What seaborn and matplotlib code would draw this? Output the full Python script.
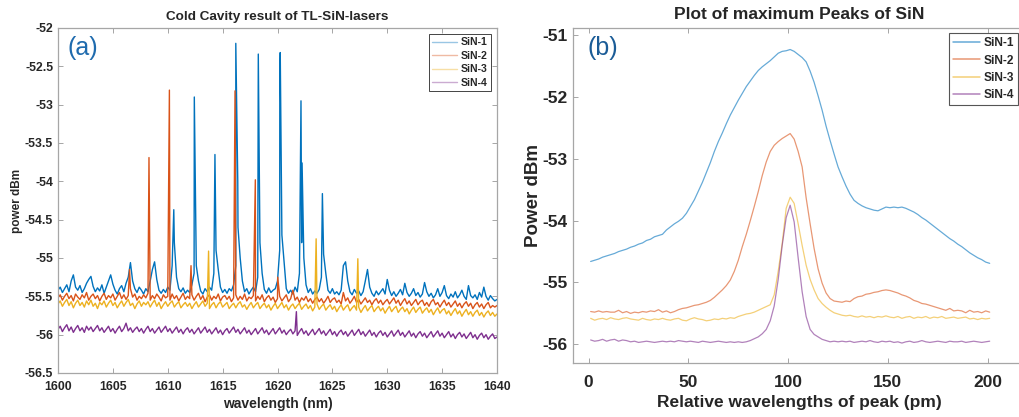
import numpy as np
import pandas as pd
import matplotlib
matplotlib.use("Agg")
import matplotlib.pyplot as plt
from matplotlib.lines import Line2D
from matplotlib.ticker import FuncFormatter
import seaborn as sns

series_names = ["SiN-1", "SiN-2", "SiN-3", "SiN-4"]
line_colors = ["#0072BD", "#D95319", "#EDB120", "#7E2F8E"]

# ---------------------------------------------------------------- (a) spectra
# noise floor sampled every 0.2 nm from 1600 to 1640 nm (dBm)
sin1_floor = [
    -55.42, -55.38, -55.45, -55.40, -55.35, -55.44, -55.30, -55.22, -55.38, -55.42,
    -55.36, -55.45, -55.40, -55.33, -55.28, -55.24, -55.37, -55.44, -55.39, -55.43,
    -55.35, -55.46, -55.38, -55.30, -55.22, -55.34, -55.42, -55.47, -55.40, -55.36,
    -55.44, -55.33, -55.25, -55.06, -55.30, -55.40, -55.45, -55.38, -55.42, -55.47,
    -55.40, -55.44, -55.30, -55.15, -55.05, -55.28, -55.42, -55.46, -55.41, -55.45,
    -55.38, -55.42, -55.10, -54.80, -55.25, -55.40, -55.44, -55.39, -55.46, -55.42,
    -55.45, -55.35, -55.20, -55.10, -55.30, -55.43, -55.47, -55.40, -55.44, -55.38,
    -55.42, -55.20, -54.90, -55.15, -55.38, -55.45, -55.41, -55.46, -55.40, -55.43,
    -55.35, -55.10, -54.60, -55.00, -55.30, -55.44, -55.40, -55.47, -55.42, -55.38,
    -55.44, -55.25, -54.80, -55.20, -55.41, -55.46, -55.39, -55.45, -55.42, -55.40,
    -55.30, -54.90, -54.70, -55.05, -55.40, -55.46, -55.42, -55.47, -55.38, -55.44,
    -55.20, -54.80, -55.00, -55.35, -55.45, -55.40, -55.47, -55.43, -55.46, -55.41,
    -55.25, -54.95, -55.20, -55.42, -55.46, -55.40, -55.47, -55.44, -55.48, -55.42,
    -55.10, -55.05, -55.30, -55.44, -55.48, -55.41, -55.46, -55.43, -55.49, -55.44,
    -55.30, -55.15, -55.38, -55.46, -55.50, -55.43, -55.48, -55.44, -55.40, -55.47,
    -55.28, -55.42, -55.49, -55.44, -55.50, -55.46, -55.41, -55.48, -55.33, -55.45,
    -55.50, -55.46, -55.40, -55.49, -55.45, -55.51, -55.47, -55.32, -55.44, -55.50,
    -55.46, -55.52, -55.48, -55.40, -55.50, -55.45, -55.36, -55.49, -55.53, -55.47,
    -55.51, -55.44, -55.52, -55.48, -55.42, -55.50, -55.54, -55.36, -55.49, -55.52,
    -55.48, -55.54, -55.45, -55.51, -55.38, -55.50, -55.55, -55.49, -55.53, -55.56,
    -55.54,
]
sin2_floor = [
    -55.52, -55.48, -55.55, -55.50, -55.46, -55.53, -55.49, -55.56, -55.47, -55.51,
    -55.54, -55.48, -55.52, -55.45, -55.55, -55.50, -55.47, -55.53, -55.49, -55.56,
    -55.50, -55.46, -55.54, -55.49, -55.52, -55.47, -55.55, -55.50, -55.45, -55.53,
    -55.48, -55.54, -55.49, -55.40, -55.51, -55.47, -55.55, -55.50, -55.53, -55.48,
    -55.52, -55.46, -55.55, -55.49, -55.53, -55.47, -55.51, -55.56, -55.48, -55.52,
    -55.50, -55.55, -55.47, -55.53, -55.49, -55.56, -55.51, -55.46, -55.54, -55.50,
    -55.53, -55.48, -55.55, -55.50, -55.46, -55.54, -55.49, -55.57, -55.51, -55.48,
    -55.55, -55.50, -55.53, -55.47, -55.56, -55.51, -55.49, -55.54, -55.50, -55.57,
    -55.52, -55.48, -55.55, -55.50, -55.54, -55.47, -55.56, -55.51, -55.53, -55.49,
    -55.56, -55.50, -55.54, -55.48, -55.57, -55.52, -55.49, -55.55, -55.51, -55.58,
    -55.53, -55.50, -55.56, -55.52, -55.48, -55.57, -55.53, -55.42, -55.55, -55.51,
    -55.58, -55.52, -55.55, -55.50, -55.57, -55.53, -55.59, -55.54, -55.51, -55.57,
    -55.53, -55.59, -55.55, -55.50, -55.58, -55.54, -55.52, -55.58, -55.55, -55.60,
    -55.45, -55.56, -55.52, -55.59, -55.55, -55.50, -55.58, -55.54, -55.60, -55.56,
    -55.52, -55.58, -55.55, -55.61, -55.56, -55.53, -55.59, -55.55, -55.61, -55.57,
    -55.54, -55.60, -55.56, -55.52, -55.59, -55.55, -55.62, -55.57, -55.53, -55.60,
    -55.56, -55.62, -55.58, -55.54, -55.61, -55.57, -55.55, -55.62, -55.58, -55.63,
    -55.57, -55.54, -55.61, -55.58, -55.64, -55.59, -55.55, -55.62, -55.58, -55.64,
    -55.60, -55.56, -55.63, -55.59, -55.65, -55.60, -55.57, -55.63, -55.59, -55.66,
    -55.61, -55.58, -55.64, -55.60, -55.66, -55.61, -55.58, -55.65, -55.62, -55.64,
    -55.62,
]
sin3_floor = [
    -55.60, -55.56, -55.63, -55.58, -55.54, -55.62, -55.57, -55.65, -55.59, -55.55,
    -55.62, -55.58, -55.64, -55.56, -55.61, -55.55, -55.63, -55.59, -55.66, -55.58,
    -55.61, -55.56, -55.64, -55.59, -55.55, -55.62, -55.58, -55.65, -55.60, -55.56,
    -55.63, -55.58, -55.54, -55.62, -55.59, -55.66, -55.60, -55.56, -55.63, -55.58,
    -55.61, -55.57, -55.64, -55.59, -55.55, -55.63, -55.58, -55.66, -55.61, -55.57,
    -55.63, -55.59, -55.56, -55.64, -55.60, -55.57, -55.65, -55.61, -55.58, -55.63,
    -55.59, -55.66, -55.61, -55.57, -55.64, -55.60, -55.56, -55.63, -55.59, -55.66,
    -55.61, -55.58, -55.65, -55.60, -55.57, -55.64, -55.61, -55.58, -55.66, -55.62,
    -55.59, -55.65, -55.60, -55.57, -55.64, -55.61, -55.67, -55.62, -55.58, -55.65,
    -55.61, -55.58, -55.66, -55.62, -55.59, -55.65, -55.61, -55.68, -55.63, -55.59,
    -55.66, -55.62, -55.58, -55.65, -55.61, -55.68, -55.63, -55.60, -55.66, -55.62,
    -55.59, -55.67, -55.63, -55.60, -55.66, -55.62, -55.69, -55.64, -55.60, -55.67,
    -55.63, -55.60, -55.68, -55.64, -55.61, -55.67, -55.63, -55.70, -55.65, -55.61,
    -55.68, -55.64, -55.61, -55.69, -55.65, -55.62, -55.68, -55.64, -55.71, -55.66,
    -55.62, -55.69, -55.65, -55.62, -55.70, -55.66, -55.63, -55.69, -55.65, -55.72,
    -55.67, -55.63, -55.70, -55.66, -55.63, -55.71, -55.67, -55.64, -55.70, -55.66,
    -55.73, -55.68, -55.64, -55.71, -55.67, -55.64, -55.72, -55.68, -55.65, -55.71,
    -55.67, -55.74, -55.69, -55.65, -55.72, -55.68, -55.66, -55.73, -55.69, -55.75,
    -55.70, -55.66, -55.73, -55.69, -55.76, -55.71, -55.67, -55.74, -55.70, -55.76,
    -55.71, -55.68, -55.75, -55.71, -55.77, -55.72, -55.69, -55.75, -55.71, -55.76,
    -55.73,
]
sin4_floor = [
    -55.93, -55.89, -55.96, -55.91, -55.87, -55.95, -55.90, -55.97, -55.92, -55.88,
    -55.95, -55.91, -55.97, -55.89, -55.94, -55.90, -55.96, -55.92, -55.88, -55.95,
    -55.91, -55.97, -55.93, -55.89, -55.96, -55.92, -55.98, -55.93, -55.89, -55.96,
    -55.92, -55.85, -55.95, -55.91, -55.97, -55.93, -55.90, -55.96, -55.92, -55.98,
    -55.93, -55.89, -55.96, -55.92, -55.98, -55.94, -55.90, -55.97, -55.93, -55.89,
    -55.96, -55.92, -55.98, -55.94, -55.90, -55.97, -55.93, -55.99, -55.94, -55.91,
    -55.97, -55.93, -55.99, -55.95, -55.91, -55.98, -55.94, -55.90, -55.97, -55.93,
    -55.99, -55.95, -55.91, -55.98, -55.94, -56.00, -55.95, -55.92, -55.98, -55.94,
    -55.90, -55.97, -55.93, -55.99, -55.95, -55.91, -55.98, -55.94, -56.00, -55.96,
    -55.92, -55.99, -55.95, -55.91, -55.98, -55.94, -56.00, -55.96, -55.92, -55.99,
    -55.95, -55.91, -55.98, -55.94, -56.00, -55.96, -55.93, -55.99, -55.95, -56.01,
    -55.96, -55.92, -55.99, -55.95, -56.01, -55.97, -55.93, -56.00, -55.96, -55.92,
    -55.99, -55.95, -56.01, -55.97, -55.93, -56.00, -55.96, -56.02, -55.97, -55.94,
    -56.00, -55.96, -56.02, -55.98, -55.94, -56.01, -55.97, -55.93, -56.00, -55.96,
    -56.02, -55.98, -55.94, -56.01, -55.97, -56.03, -55.98, -55.95, -56.01, -55.97,
    -56.03, -55.99, -55.95, -56.02, -55.98, -55.94, -56.01, -55.97, -56.03, -55.99,
    -55.95, -56.02, -55.98, -56.04, -55.99, -55.96, -56.02, -55.98, -56.04, -56.00,
    -55.96, -56.03, -55.99, -55.95, -56.02, -55.98, -56.04, -56.00, -55.96, -56.03,
    -55.99, -56.05, -56.00, -55.97, -56.03, -55.99, -56.05, -56.01, -55.97, -56.04,
    -56.00, -56.06, -56.01, -55.98, -56.04, -56.00, -56.06, -56.02, -55.99, -56.05,
    -56.03,
]

# cavity resonance peaks: wavelength (nm) and power (dBm)
sin1_peak_nm = [1610.55, 1612.42, 1614.30, 1616.20, 1616.38, 1618.25, 1620.21, 1620.25, 1622.14, 1622.24, 1624.09]
sin1_peak_dbm = [-54.37, -52.90, -53.65, -52.20, -54.00, -52.34, -52.60, -52.32, -52.95, -53.76, -54.16]
sin2_peak_nm = [1606.52, 1608.29, 1610.15, 1612.12, 1616.13, 1617.98, 1620.02]
sin2_peak_dbm = [-55.15, -53.69, -52.81, -55.10, -52.82, -53.98, -55.25]
sin3_peak_nm = [1613.72, 1623.52, 1627.32]
sin3_peak_dbm = [-54.91, -54.75, -55.01]
sin4_peak_nm = [1621.72]
sin4_peak_dbm = [-55.70]

# ---------------------------------------------------------------- (b) peak profiles
rel_pm = list(range(1, 202, 2))
sin1_profile = [
    -54.66, -54.64, -54.62, -54.59, -54.57, -54.55, -54.53, -54.50, -54.48, -54.46,
    -54.43, -54.41, -54.38, -54.36, -54.32, -54.30, -54.26, -54.24, -54.22, -54.15,
    -54.10, -54.05, -54.01, -53.96, -53.88, -53.77, -53.66, -53.52, -53.38, -53.22,
    -53.06, -52.88, -52.72, -52.58, -52.43, -52.29, -52.17, -52.05, -51.94, -51.83,
    -51.74, -51.65, -51.57, -51.51, -51.46, -51.41, -51.35, -51.29, -51.26, -51.25,
    -51.23, -51.26, -51.31, -51.36, -51.43, -51.58, -51.76, -51.98, -52.21, -52.47,
    -52.70, -52.92, -53.13, -53.29, -53.44, -53.57, -53.67, -53.72, -53.76, -53.79,
    -53.81, -53.83, -53.84, -53.81, -53.78, -53.79, -53.78, -53.79, -53.78, -53.80,
    -53.83, -53.86, -53.90, -53.95, -53.99, -54.04, -54.09, -54.14, -54.19, -54.24,
    -54.29, -54.33, -54.38, -54.42, -54.47, -54.52, -54.56, -54.60, -54.63, -54.67,
    -54.69,
]
sin2_profile = [
    -55.47, -55.48, -55.46, -55.48, -55.47, -55.48, -55.48, -55.45, -55.49, -55.47,
    -55.50, -55.48, -55.49, -55.47, -55.48, -55.46, -55.47, -55.44, -55.48, -55.46,
    -55.49, -55.47, -55.44, -55.42, -55.41, -55.39, -55.37, -55.36, -55.34, -55.32,
    -55.29, -55.24, -55.18, -55.12, -55.05, -54.96, -54.82, -54.64, -54.42, -54.22,
    -54.00, -53.77, -53.53, -53.27, -53.05, -52.88, -52.78, -52.72, -52.67, -52.63,
    -52.59, -52.68, -52.88, -53.13, -53.63, -54.05, -54.45, -54.78, -55.01, -55.17,
    -55.26, -55.30, -55.31, -55.32, -55.30, -55.31, -55.26, -55.23, -55.22, -55.19,
    -55.18, -55.16, -55.15, -55.13, -55.12, -55.13, -55.15, -55.17, -55.20, -55.22,
    -55.25, -55.29, -55.31, -55.34, -55.35, -55.37, -55.39, -55.41, -55.43, -55.45,
    -55.42, -55.46, -55.45, -55.46, -55.49, -55.45, -55.48, -55.47, -55.49, -55.46,
    -55.48,
]
sin3_profile = [
    -55.58, -55.61, -55.59, -55.58, -55.60, -55.57, -55.59, -55.60, -55.58, -55.57,
    -55.59, -55.60, -55.61, -55.58, -55.60, -55.61, -55.59, -55.60, -55.58, -55.60,
    -55.61, -55.59, -55.58, -55.61, -55.62, -55.59, -55.57, -55.59, -55.60, -55.62,
    -55.61, -55.59, -55.60, -55.58, -55.59, -55.57, -55.58, -55.55, -55.53, -55.51,
    -55.50, -55.48, -55.45, -55.42, -55.39, -55.36, -55.20, -54.82, -54.37, -53.80,
    -53.62, -53.72, -54.05, -54.40, -54.72, -54.95, -55.12, -55.26, -55.34, -55.40,
    -55.45, -55.49, -55.51, -55.53, -55.54, -55.53, -55.55, -55.56, -55.54, -55.56,
    -55.55, -55.57, -55.55, -55.56, -55.54, -55.56, -55.57, -55.55, -55.58, -55.56,
    -55.55, -55.58, -55.56, -55.57, -55.55, -55.58, -55.56, -55.57, -55.55, -55.58,
    -55.57, -55.56, -55.58, -55.57, -55.56, -55.59, -55.58, -55.60, -55.58, -55.59,
    -55.58,
]
sin4_profile = [
    -55.93, -55.95, -55.94, -55.92, -55.95, -55.93, -55.92, -55.95, -55.93, -55.94,
    -55.96, -55.95, -55.97, -55.96, -55.95, -55.96, -55.97, -55.96, -55.95, -55.96,
    -55.95, -55.96, -55.94, -55.95, -55.96, -55.95, -55.96, -55.97, -55.95, -55.96,
    -55.97, -55.96, -55.95, -55.96, -55.97, -55.96, -55.97, -55.96, -55.97, -55.96,
    -55.94, -55.91, -55.88, -55.83, -55.76, -55.62, -55.38, -54.95, -54.40, -53.95,
    -53.75, -54.02, -54.60, -55.15, -55.55, -55.76, -55.84, -55.88, -55.92, -55.94,
    -55.96, -55.95, -55.96, -55.95, -55.96, -55.95, -55.97, -55.96, -55.95, -55.96,
    -55.94, -55.96, -55.97, -55.95, -55.96, -55.95, -55.97, -55.96, -55.98, -55.96,
    -55.95, -55.97, -55.96, -55.94, -55.96, -55.97, -55.96, -55.95, -55.96, -55.97,
    -55.95, -55.96, -55.96, -55.95, -55.97, -55.96, -55.95, -55.96, -55.97, -55.96,
    -55.95,
]

# ---------------------------------------------------------------- tables
floors = [sin1_floor, sin2_floor, sin3_floor, sin4_floor]
peaks_nm = [sin1_peak_nm, sin2_peak_nm, sin3_peak_nm, sin4_peak_nm]
peaks_dbm = [sin1_peak_dbm, sin2_peak_dbm, sin3_peak_dbm, sin4_peak_dbm]
profiles = [sin1_profile, sin2_profile, sin3_profile, sin4_profile]

grid_nm = np.round(1600.0 + 0.2 * np.arange(len(sin1_floor)), 2)
frames_a = []
for name, floor, pk_x, pk_y in zip(series_names, floors, peaks_nm, peaks_dbm):
    x = np.concatenate([grid_nm, pk_x])
    y = np.concatenate([floor, pk_y])
    order = np.argsort(x, kind="stable")
    frames_a.append(pd.DataFrame({"wavelength": x[order], "power": y[order], "series": name}))
spectra = pd.concat(frames_a, ignore_index=True)

profiles_df = pd.concat(
    [pd.DataFrame({"rel": rel_pm, "power": p, "series": n}) for n, p in zip(series_names, profiles)],
    ignore_index=True,
)

palette = dict(zip(series_names, line_colors))

# ---------------------------------------------------------------- style
sns.set_theme(style="ticks")
plt.rcParams["font.family"] = ["Liberation Sans", "DejaVu Sans"]
plt.rcParams["font.weight"] = "bold"
plt.rcParams["axes.unicode_minus"] = False

W, H = 1020, 417
fig = plt.figure(figsize=(W / 100, H / 100), dpi=100)


def px_axes(x0, y0, x1, y1):
    return fig.add_axes([x0 / W, 1 - y1 / H, (x1 - x0) / W, (y1 - y0) / H])


ax_a = px_axes(58, 28, 497, 373)
ax_b = px_axes(572.7, 27.7, 1026, 362.7)

spine_col = "#a6a6a6"
text_col = "#262626"
fmt = FuncFormatter(lambda v, _: f"{v:g}")

for ax in (ax_a, ax_b):
    for s in ax.spines.values():
        s.set_color(spine_col)
        s.set_linewidth(0.9)
    ax.tick_params(direction="in", length=3.5, width=0.7, color=spine_col,
                   labelcolor=text_col, top=True, right=True)
    ax.yaxis.set_major_formatter(fmt)
    ax.xaxis.set_major_formatter(fmt)
    ax.set_facecolor("white")

# ---------------------------------------------------------------- (a)
sns.lineplot(data=spectra, x="wavelength", y="power", hue="series", palette=palette,
             estimator=None, sort=True, linewidth=1.0, legend=False, ax=ax_a)
ax_a.set_xlim(1600, 1640)
ax_a.set_ylim(-56.5, -52)
ax_a.set_xticks(range(1600, 1641, 5))
ax_a.set_yticks(np.arange(-56.5, -51.9, 0.5))
ax_a.tick_params(axis="x", labelsize=8.8, pad=5.5)
ax_a.tick_params(axis="y", labelsize=8.8, pad=3.5)
ax_a.set_title("Cold Cavity result of TL-SiN-lasers", fontsize=9.7, fontweight="bold",
               color=text_col, y=1.032, va="center", pad=0)
ax_a.set_xlabel("wavelength (nm)", fontsize=10, fontweight="bold", color=text_col)
ax_a.set_ylabel("power dBm", fontsize=8.5, fontweight="bold", color=text_col)
ax_a.xaxis.set_label_coords(0.5, -0.09)
ax_a.xaxis.label.set_va("center")
ax_a.yaxis.set_label_coords(-0.094, 0.5)
ax_a.yaxis.label.set_va("center")
ax_a.text(0.022, 0.943, "(a)", transform=ax_a.transAxes, fontsize=18, fontweight="normal",
          color="#1F6BAE", ha="left", va="center")
handles_a = [Line2D([], [], color=c, lw=1.0, alpha=0.4) for c in line_colors]
leg_a = ax_a.legend(handles_a, series_names, loc="upper right", fontsize=7.6,
                    handlelength=2.4, handletextpad=0.3, labelspacing=0.32,
                    borderpad=0.3, borderaxespad=0.6, frameon=True, fancybox=False,
                    framealpha=1, edgecolor=text_col)
leg_a.get_frame().set_linewidth(0.6)
for t in leg_a.get_texts():
    t.set_fontweight("bold")
    t.set_color(text_col)

# ---------------------------------------------------------------- (b)
sns.lineplot(data=profiles_df, x="rel", y="power", hue="series", palette=palette,
             estimator=None, sort=True, linewidth=0.9, alpha=0.6, legend=False, ax=ax_b)
ax_b.set_xlim(-8.0, 219.2)
ax_b.set_ylim(-56.298, -50.877)
ax_b.set_xticks(range(0, 201, 50))
ax_b.set_yticks(range(-56, -50))
ax_b.tick_params(axis="x", labelsize=12.5, pad=8.5)
ax_b.tick_params(axis="y", labelsize=12.5, pad=3.5)
ax_b.set_title("Plot of maximum Peaks of SiN", fontsize=12.5, fontweight="bold",
               color=text_col, y=1.038, va="center", pad=0)
ax_b.set_xlabel("Relative wavelengths of peak (pm)", fontsize=12.5, fontweight="bold", color=text_col)
ax_b.set_ylabel("Power dBm", fontsize=13.5, fontweight="bold", color=text_col)
ax_b.xaxis.set_label_coords(0.5, -0.12)
ax_b.xaxis.label.set_va("center")
ax_b.yaxis.set_label_coords(-0.087, 0.5)
ax_b.yaxis.label.set_va("center")
ax_b.text(0.033, 0.939, "(b)", transform=ax_b.transAxes, fontsize=18, fontweight="normal",
          color="#1B5C97", ha="left", va="center")
handles_b = [Line2D([], [], color=c, lw=1.1, alpha=0.6) for c in line_colors]
leg_b = ax_b.legend(handles_b, series_names, loc="upper right", fontsize=8.6,
                    handlelength=2.3, handletextpad=0.3, labelspacing=0.45,
                    borderpad=0.35, borderaxespad=0,
                    bbox_to_anchor=(1018.5 / W, 1 - 33 / H), bbox_transform=fig.transFigure,
                    frameon=True, fancybox=False, framealpha=1, edgecolor="#555555")
leg_b.get_frame().set_linewidth(0.8)
for t in leg_b.get_texts():
    t.set_fontweight("bold")
    t.set_color(text_col)

# bold tick labels, as in the axis text
for ax in (ax_a, ax_b):
    for lbl in ax.get_xticklabels() + ax.get_yticklabels():
        lbl.set_fontweight("bold")

fig.savefig("out.png", dpi=100, facecolor="white")
